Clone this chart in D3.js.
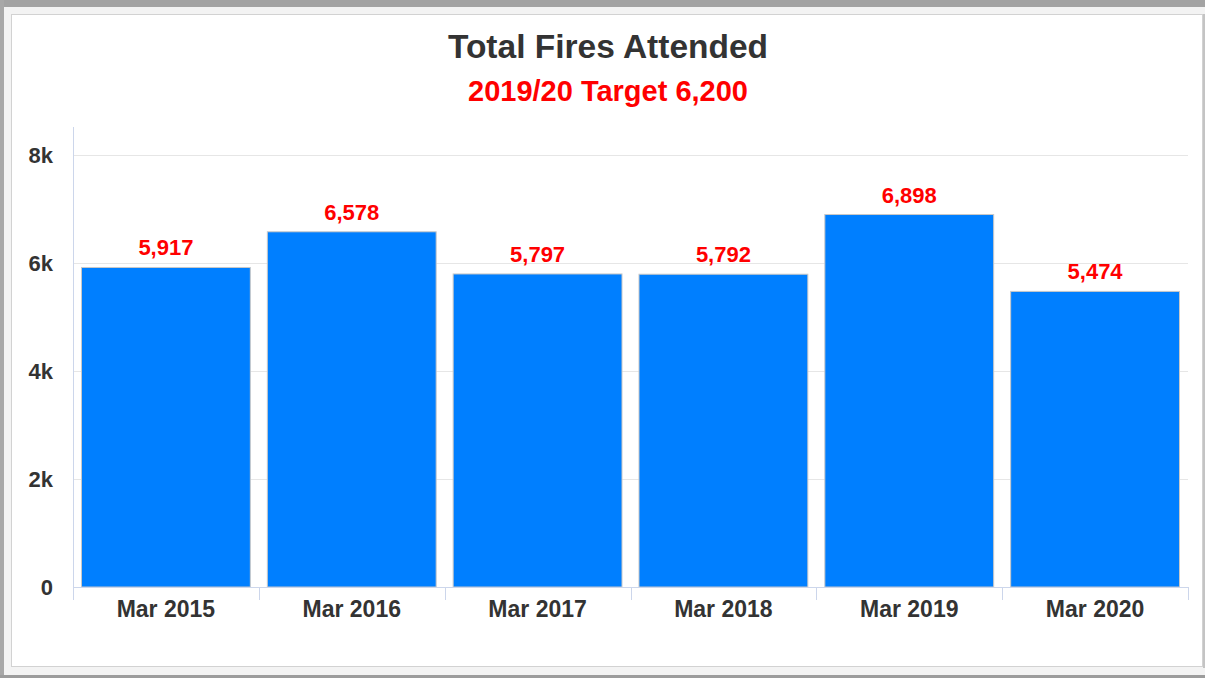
<!DOCTYPE html>
<html>
<head>
<meta charset="utf-8">
<script src="https://cdn.jsdelivr.net/npm/d3@7"></script>
<style>
  body { margin: 0; background: #f3f3f3; }
  svg { display: block; }
</style>
</head>
<body>
<script>
// chart data
const categories = ['Mar 2015', 'Mar 2016', 'Mar 2017', 'Mar 2018', 'Mar 2019', 'Mar 2020'];
const fires = [5917, 6578, 5797, 5792, 6898, 5474];
const yTicks = [0, 2000, 4000, 6000, 8000];
const titleText = 'Total Fires Attended';
const subtitleText = '2019/20 Target 6,200';

const W = 1205, H = 678;
const plot = { left: 73, right: 1188, top: 127, bottom: 587 };
const font = '"Liberation Sans", Arial, sans-serif';

const svg = d3.select('body').append('svg')
    .attr('width', W)
    .attr('height', H);

// window frame bits around the panel
svg.append('rect').attr('x', 0).attr('y', 0).attr('width', W).attr('height', 7).attr('fill', '#a3a3a3');
svg.append('rect').attr('x', 0).attr('y', 0).attr('width', 4).attr('height', H).attr('fill', '#a8a8a8');
svg.append('rect').attr('x', 0).attr('y', 675).attr('width', W).attr('height', 3).attr('fill', '#9c9c9c');
svg.append('rect').attr('x', 1203).attr('y', 14).attr('width', 2).attr('height', 654).attr('fill', '#c4c4c4');

// white chart panel
svg.append('rect')
    .attr('x', 11.5).attr('y', 14.5)
    .attr('width', 1191).attr('height', 652)
    .attr('fill', '#ffffff')
    .attr('stroke', '#d2d2d2');

const x = d3.scaleBand()
    .domain(categories)
    .range([plot.left, plot.right])
    .padding(0);

const y = d3.scaleLinear()
    .domain([0, 8000])
    .range([plot.bottom, 155]);

// gridlines
svg.selectAll('.grid')
    .data(yTicks.filter(d => d > 0))
    .enter().append('line')
    .attr('class', 'grid')
    .attr('x1', plot.left).attr('x2', plot.right)
    .attr('y1', d => Math.round(y(d)) + 0.5)
    .attr('y2', d => Math.round(y(d)) + 0.5)
    .attr('stroke', '#e6e6e6');

// y axis line
svg.append('line')
    .attr('x1', plot.left + 0.5).attr('x2', plot.left + 0.5)
    .attr('y1', plot.top).attr('y2', plot.bottom)
    .attr('stroke', '#ccd6eb');

// y tick labels
svg.selectAll('.ylab')
    .data(yTicks)
    .enter().append('text')
    .attr('class', 'ylab')
    .attr('x', 53)
    .attr('y', d => y(d))
    .attr('dy', '0.36em')
    .attr('text-anchor', 'end')
    .style('font-family', font)
    .style('font-weight', 'bold')
    .style('font-size', '22px')
    .style('fill', '#333333')
    .text(d => d === 0 ? '0' : (d / 1000) + 'k');

// bars
const inset = 8.5;
svg.selectAll('.bar')
    .data(fires)
    .enter().append('rect')
    .attr('class', 'bar')
    .attr('x', (d, i) => x(categories[i]) + inset)
    .attr('y', d => y(d))
    .attr('width', x.bandwidth() - inset * 2)
    .attr('height', d => y(0) - y(d))
    .attr('fill', '#007fff')
    .attr('stroke', '#c8c8c8')
    .attr('stroke-width', 1);

// value labels
svg.selectAll('.vlab')
    .data(fires)
    .enter().append('text')
    .attr('class', 'vlab')
    .attr('x', (d, i) => x(categories[i]) + x.bandwidth() / 2)
    .attr('y', d => y(d) - 12)
    .attr('text-anchor', 'middle')
    .style('font-family', font)
    .style('font-weight', 'bold')
    .style('font-size', '22px')
    .style('fill', '#ff0000')
    .text(d => d3.format(',')(d));

// x axis line and ticks
svg.append('line')
    .attr('x1', plot.left).attr('x2', plot.right)
    .attr('y1', plot.bottom + 0.5).attr('y2', plot.bottom + 0.5)
    .attr('stroke', '#ccd6eb');

const boundaries = categories.map(c => x(c)).concat([plot.right]);
svg.selectAll('.xtick')
    .data(boundaries)
    .enter().append('line')
    .attr('class', 'xtick')
    .attr('x1', d => Math.round(d) + 0.5).attr('x2', d => Math.round(d) + 0.5)
    .attr('y1', plot.bottom).attr('y2', 600)
    .attr('stroke', '#ccd6eb');

svg.selectAll('.xlab')
    .data(categories)
    .enter().append('text')
    .attr('class', 'xlab')
    .attr('x', d => x(d) + x.bandwidth() / 2)
    .attr('y', 617)
    .attr('text-anchor', 'middle')
    .style('font-family', font)
    .style('font-weight', 'bold')
    .style('font-size', '23px')
    .style('fill', '#333333')
    .text(d => d);

// titles
svg.append('text')
    .attr('x', 608).attr('y', 58)
    .attr('text-anchor', 'middle')
    .style('font-family', font)
    .style('font-weight', 'bold')
    .style('font-size', '33.5px')
    .style('fill', '#333333')
    .text(titleText);

svg.append('text')
    .attr('x', 608).attr('y', 101)
    .attr('text-anchor', 'middle')
    .style('font-family', font)
    .style('font-weight', 'bold')
    .style('font-size', '29px')
    .style('fill', '#ff0000')
    .text(subtitleText);
</script>
</body>
</html>
